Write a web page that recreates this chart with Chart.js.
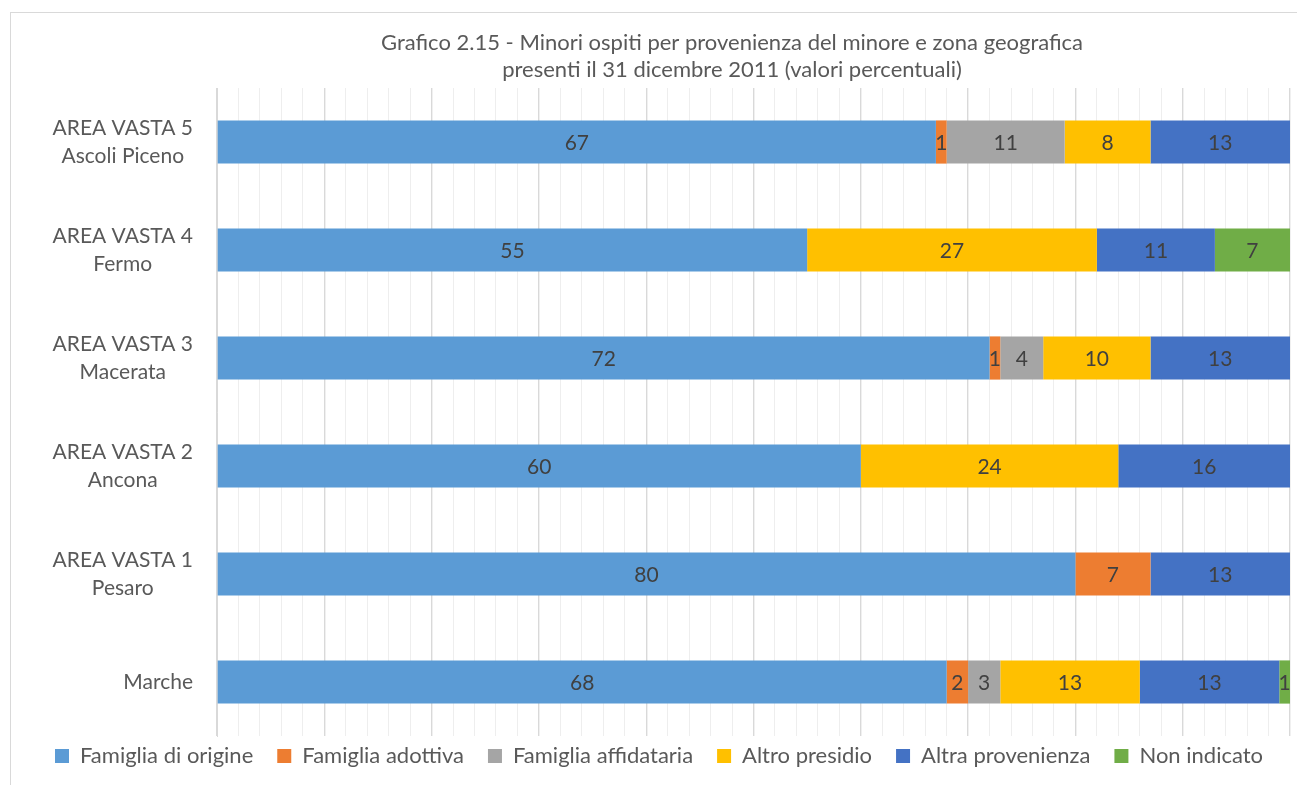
<!DOCTYPE html>
<html>
<head>
<meta charset="utf-8">
<script src="https://cdn.jsdelivr.net/npm/chart.js@4"></script>
<style>
  html, body { margin: 0; padding: 0; background: #fff; overflow: hidden; }
  #frame { position: absolute; left: 10px; top: 12px; width: 1400px; height: 900px; border: 1.5px solid #d9d9d9; box-sizing: border-box; }
  #myChart { position: absolute; left: 0; top: 0; }
</style>
</head>
<body>
<div id="frame"></div>
<canvas id="myChart" width="1297" height="785"></canvas>
<script>
const titleLines = [
    "Grafico 2.15 - Minori ospiti per provenienza del minore e zona geografica",
    "presenti il 31 dicembre 2011 (valori percentuali)"
];
const categories = [
    ["AREA VASTA 5", "Ascoli Piceno"],
    ["AREA VASTA 4", "Fermo"],
    ["AREA VASTA 3", "Macerata"],
    ["AREA VASTA 2", "Ancona"],
    ["AREA VASTA 1", "Pesaro"],
    ["Marche"]
];
const famigliaOrigine     = [67, 55, 72, 60, 80, 68];
const famigliaAdottiva    = [1, 0, 1, 0, 7, 2];
const famigliaAffidataria = [11, 0, 4, 0, 0, 3];
const altroPresidio       = [8, 27, 10, 24, 0, 13];
const altraProvenienza    = [13, 11, 13, 16, 13, 13];
const nonIndicato         = [0, 7, 0, 0, 0, 1];

const FONT = "Lato, 'Open Sans', sans-serif";

// title drawn by hand so it can sit off-centre like the original
const titlePlugin = {
    id: 'titleText',
    afterDraw(chart) {
        const c = chart.ctx;
        c.save();
        c.fillStyle = '#595959';
        c.font = "22px " + FONT;
        c.textAlign = 'center';
        c.textBaseline = 'middle';
        c.fillText(titleLines[0], 732, 43);
        c.fillText(titleLines[1], 732, 70);
        c.restore();
    }
};

// category labels: block right aligned, lines centred inside the block (like Excel)
const catPlugin = {
    id: 'catLabels',
    afterDraw(chart) {
        const c = chart.ctx;
        const y = chart.scales.y;
        c.save();
        c.fillStyle = '#595959';
        c.font = "21px " + FONT;
        c.textAlign = 'center';
        c.textBaseline = 'middle';
        categories.forEach((lines, i) => {
            const w = Math.max(...lines.map(t => c.measureText(t).width));
            const cx = 193 - w / 2;
            const cy = y.getPixelForValue(i);
            lines.forEach((t, k) => {
                c.fillText(t, cx, cy + (k - (lines.length - 1) / 2) * 28);
            });
        });
        c.restore();
    }
};

// value labels in the middle of each segment
const labelPlugin = {
    id: 'segLabels',
    afterDatasetsDraw(chart) {
        const c = chart.ctx;
        c.save();
        c.fillStyle = '#404040';
        c.font = "21px " + FONT;
        c.textAlign = 'center';
        c.textBaseline = 'middle';
        chart.data.datasets.forEach((ds, i) => {
            chart.getDatasetMeta(i).data.forEach((bar, j) => {
                const v = ds.data[j];
                if (!v) return;
                const p = bar.getProps(['x', 'y', 'base'], true);
                c.fillText(String(v), (p.x + p.base) / 2, p.y + 1);
            });
        });
        c.restore();
    }
};

function makeSet(label, data, color) {
    return { label: label, data: data, backgroundColor: color, borderWidth: 0,
             barPercentage: 0.4, categoryPercentage: 1 };
}

const ctx = document.getElementById('myChart').getContext('2d');
const myChart = new Chart(ctx, {
    type: 'bar',
    data: {
        labels: categories.map(l => l.join(' ')),
        datasets: [
            makeSet('Famiglia di origine', famigliaOrigine, '#5b9bd5'),
            makeSet('Famiglia adottiva', famigliaAdottiva, '#ed7d31'),
            makeSet('Famiglia affidataria', famigliaAffidataria, '#a5a5a5'),
            makeSet('Altro presidio', altroPresidio, '#ffc000'),
            makeSet('Altra provenienza', altraProvenienza, '#4472c4'),
            makeSet('Non indicato', nonIndicato, '#70ad47')
        ]
    },
    options: {
        indexAxis: 'y',
        responsive: false,
        animation: false,
        layout: { padding: { top: 88, right: 7, bottom: -7, left: 28 } },
        plugins: {
            title: { display: false },
            tooltip: { enabled: false },
            legend: {
                position: 'bottom',
                labels: {
                    boxWidth: 14, boxHeight: 14, padding: 24,
                    color: '#595959',
                    font: { family: FONT, size: 22 }
                }
            }
        },
        scales: {
            x: {
                stacked: true,
                min: 0, max: 100,
                // let the plot run a little into the legend's top padding
                afterFit(scale) { scale.height = -15; },
                ticks: { display: false, stepSize: 2 },
                grid: {
                    drawTicks: false,
                    color: (c) => c.tick && c.tick.value % 10 === 0 ? '#d9d9d9' : '#eeeeee',
                    lineWidth: (c) => c.tick && c.tick.value % 10 === 0 ? 1.4 : 1
                },
                border: { display: false }
            },
            y: {
                stacked: true,
                afterFit(scale) { scale.width = 189; },
                ticks: { display: false },
                grid: { display: false, drawTicks: false },
                border: { display: true, color: '#d9d9d9', width: 1 }
            }
        }
    },
    plugins: [labelPlugin, catPlugin, titlePlugin]
});
</script>
</body>
</html>
